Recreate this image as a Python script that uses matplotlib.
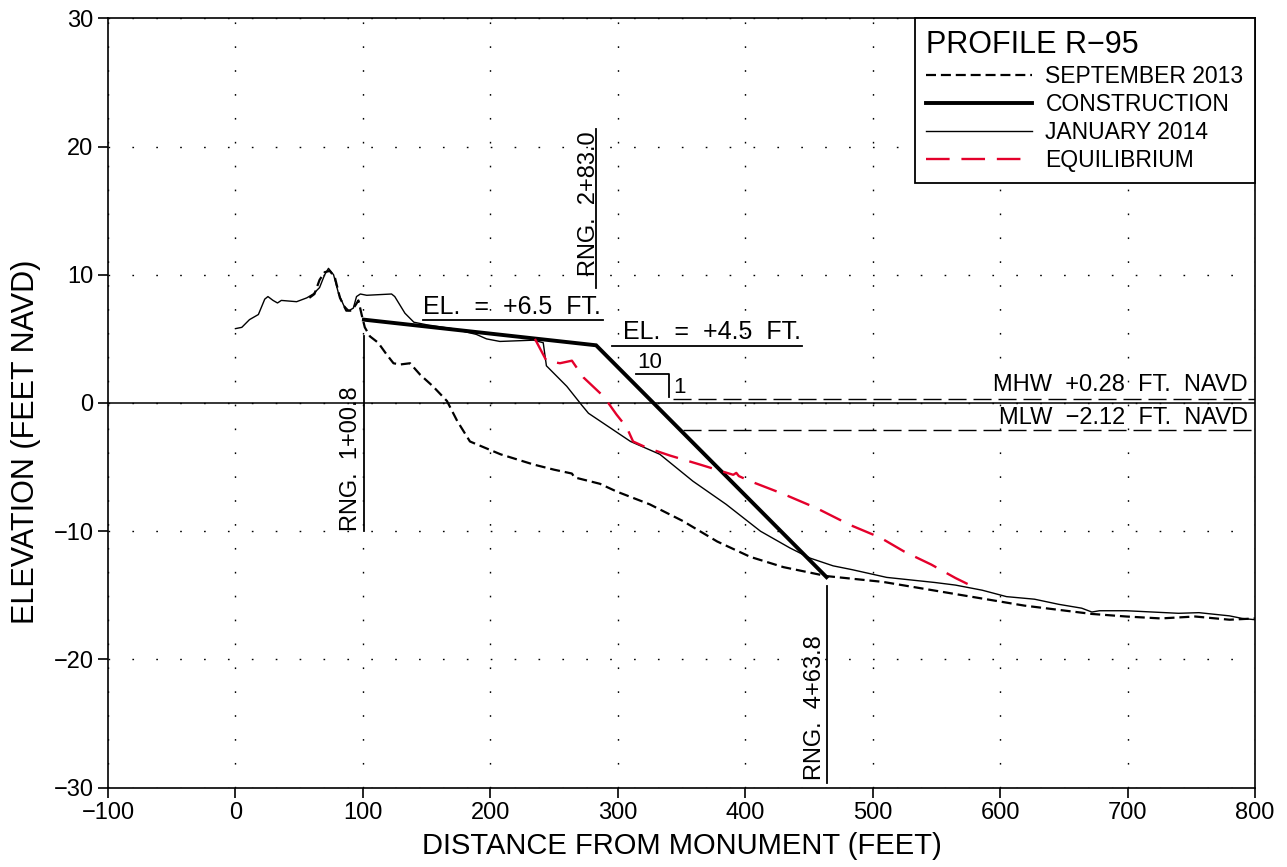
import numpy as np
import matplotlib
matplotlib.use('Agg')
import matplotlib.pyplot as plt

plt.rcParams['font.family'] = ['Liberation Sans', 'DejaVu Sans']

# profile data (distance ft, elevation ft NAVD)
jan_x = [0, 5, 11, 18, 23, 25.5, 29.5, 33, 36, 48, 56, 61, 66, 70, 73, 77, 81, 85, 89,
         92.5, 95, 98, 103, 122.5, 125, 133, 140, 150, 170, 189, 197, 207.5, 234, 241.5,
         244, 260, 272, 277, 310, 333, 359, 385, 412, 435, 451, 469, 484, 511, 549, 565,
         586, 605, 627, 646, 664, 672, 678, 699, 740, 756, 780, 790, 800]
jan_y = [5.8, 5.9, 6.5, 6.9, 8.1, 8.3, 8.0, 7.8, 8.0, 7.9, 8.2, 8.5, 9.0, 10.0, 10.5, 10.0,
         8.5, 7.6, 7.2, 7.4, 8.3, 8.5, 8.4, 8.5, 8.3, 7.0, 6.3, 6.1, 5.8, 5.35, 5.0, 4.8,
         4.9, 4.7, 2.9, 1.3, -0.2, -0.8, -3.0, -4.0, -6.1, -7.9, -10.0, -11.3, -12.1,
         -12.7, -13.0, -13.6, -14.0, -14.2, -14.6, -15.1, -15.3, -15.7, -16.0, -16.3,
         -16.2, -16.2, -16.4, -16.35, -16.6, -16.8, -16.9]

sep_x = [58, 62, 66, 70, 74, 78, 82, 87, 91, 94, 96.5, 99, 101.5, 105.5, 112, 118.5, 124,
         129, 137, 145, 155, 166, 174, 184, 208, 234, 250, 264, 266, 286, 299, 325, 351,
         378, 404, 430, 464, 508, 565, 619, 672, 699, 726, 753, 780, 800]
sep_y = [8.2, 8.5, 9.6, 10.2, 10.3, 9.8, 8.2, 7.2, 7.2, 7.6, 8.0, 6.9, 5.9, 5.2, 4.7, 3.8,
         3.1, 3.0, 3.1, 2.2, 1.3, 0.15, -1.4, -3.0, -4.0, -4.8, -5.2, -5.5, -5.8, -6.3,
         -6.9, -7.9, -9.2, -10.8, -12.0, -12.8, -13.5, -13.95, -14.9, -15.8, -16.45,
         -16.65, -16.8, -16.65, -16.9, -16.8]

con_x = [100.8, 283, 463.8]
con_y = [6.5, 4.5, -13.58]

eq_x = [235, 244, 254.6, 264, 273, 289, 299, 307, 312, 323, 341, 364.5, 390.6, 393, 395,
        404, 430, 456, 482, 506, 525, 546, 565, 582.4]
eq_y = [5.0, 3.3, 3.1, 3.3, 2.0, 0.5, -0.9, -1.9, -3.0, -3.5, -4.1, -4.8, -5.6, -5.45, -5.7,
        -6.1, -7.1, -8.2, -9.5, -10.5, -11.6, -12.6, -13.65, -14.5]

mhw, mlw = 0.28, -2.12

fig = plt.figure(figsize=(12.87, 8.67), dpi=100)
ax = fig.add_axes([108/1287, 1 - 787.7/867, 1147/1287, 769.4/867])

ax.set_xlim(-100, 800)
ax.set_ylim(-30, 30)
ax.set_xticks(np.arange(-100, 801, 100))
ax.set_yticks(np.arange(-30, 31, 10))
ax.tick_params(direction='out', length=7, width=1.2, labelsize=17, top=False, right=False)
for s in ax.spines.values():
    s.set_linewidth(1.2)
ax.grid(True, color='black', linestyle=(0, (1.2, 16)), linewidth=1.0)

ax.axhline(0, color='black', lw=1.1)

ax.plot(sep_x, sep_y, color='black', lw=1.6, ls=(0, (4.5, 2.2)), label='SEPTEMBER 2013')
ax.plot(con_x, con_y, color='black', lw=2.8, label='CONSTRUCTION', solid_joinstyle='miter')
ax.plot(jan_x, jan_y, color='black', lw=1.0, label='JANUARY 2014')
ax.plot(eq_x, eq_y, color='#e4002b', lw=1.7, ls=(0, (10, 5)), label='EQUILIBRIUM')

# tidal datums
ax.plot([343, 800], [mhw, mhw], color='black', lw=1.0, ls=(0, (13, 5)))
ax.plot([351, 800], [mlw, mlw], color='black', lw=1.0, ls=(0, (13, 5)))
ax.text(794.5, 0.95, 'MHW  +0.28  FT.  NAVD', fontsize=17, ha='right', va='baseline')
ax.text(794.5, -1.6, 'MLW  \u22122.12  FT.  NAVD', fontsize=17, ha='right', va='baseline')

# range markers
ax.plot([100.8, 100.8], [5.2, -10], color='black', lw=1.3)
ax.text(99, -10, 'RNG.  1+00.8', rotation=90, fontsize=17, ha='right', va='bottom')
ax.plot([283, 283], [21.4, 9.0], color='black', lw=1.3)
ax.text(286, 9.9, 'RNG.  2+83.0', rotation=90, fontsize=17, ha='right', va='bottom')
ax.plot([463.8, 463.8], [-14.3, -29.6], color='black', lw=1.3)
ax.text(463, -29.4, 'RNG.  4+63.8', rotation=90, fontsize=17, ha='right', va='bottom')

# elevation callouts
ax.text(147, 6.95, 'EL.  =  +6.5  FT.', fontsize=18, ha='left', va='baseline')
ax.plot([146.9, 288.5], [6.47, 6.47], color='black', lw=1.3)
ax.text(304, 4.97, 'EL.  =  +4.5  FT.', fontsize=18, ha='left', va='baseline')
ax.plot([295.2, 444.3], [4.45, 4.45], color='black', lw=1.3)

# 10:1 slope symbol
ax.text(315, 2.75, '10', fontsize=16, ha='left', va='baseline')
ax.plot([314, 340.2, 340.2], [2.29, 2.29, 0.47], color='black', lw=1.3)
ax.text(343.6, 0.8, '1', fontsize=16, ha='left', va='baseline')

ax.set_xlabel('DISTANCE FROM MONUMENT (FEET)', fontsize=21)
ax.xaxis.set_label_coords(0.5, -0.057)
ax.set_ylabel('ELEVATION (FEET NAVD)', fontsize=22)
ax.yaxis.set_label_coords(-0.058, 0.449)

leg = ax.legend(loc='upper right', bbox_to_anchor=(1, 1), borderaxespad=0,
                title='PROFILE R\u221295', title_fontsize=22, fontsize=16.5,
                alignment='left', fancybox=False, framealpha=1, edgecolor='black',
                handlelength=4.6, handletextpad=0.6, labelspacing=0.22, borderpad=0.5)
leg.get_frame().set_linewidth(1.3)

fig.savefig('out.png', dpi=100)
